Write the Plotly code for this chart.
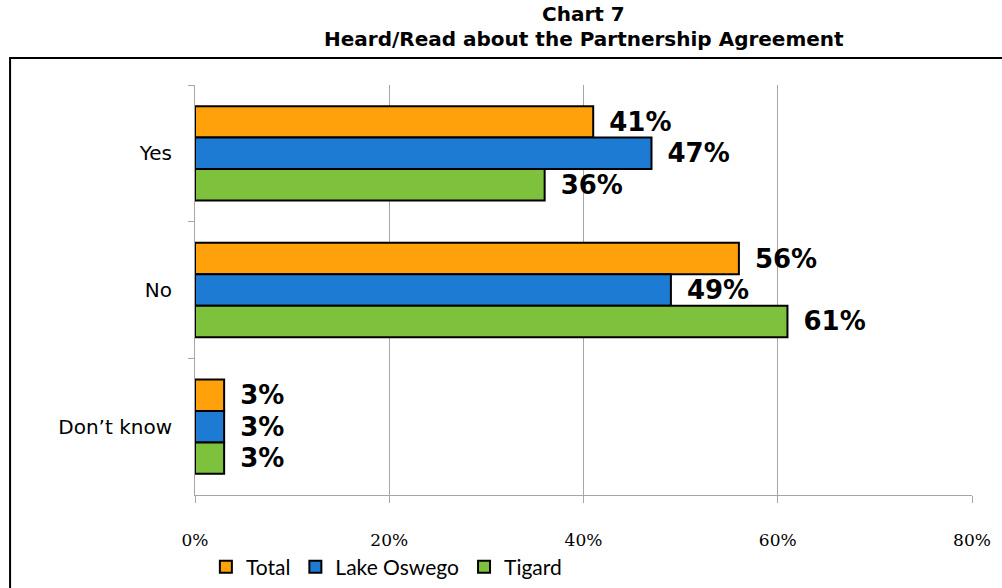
import plotly.graph_objects as go

# ── Data ──────────────────────────────────────────────────────────────────────
categories = ["Yes", "No", "Don\u2019t know"]
total = [41, 56, 3]
lake_oswego = [47, 49, 3]
tigard = [36, 61, 3]

series_names = ["Total", "Lake Oswego", "Tigard"]
series_colors = ["#FFA10A", "#1E7BD4", "#7DC13C"]
x_ticks = [0, 20, 40, 60, 80]
x_tick_labels = ["0%", "20%", "40%", "60%", "80%"]

title_lines = ["Chart 7", "Heard/Read about the Partnership Agreement"]

# ── Figure ────────────────────────────────────────────────────────────────────
fig = go.Figure()
for name, vals, col in zip(series_names, [total, lake_oswego, tigard], series_colors):
    fig.add_trace(
        go.Bar(
            y=categories, x=vals, name=name, orientation="h",
            marker=dict(color=col, line=dict(color="black", width=2)),
            text=[f"\u2002{v}%" for v in vals],   # small gap after bar end
            textposition="outside",
            textfont=dict(family="DejaVu Sans", size=26, color="black", weight="bold"),
            cliponaxis=False,
        )
    )

title_font = dict(family="DejaVu Sans", size=20, color="black", weight="bold")

fig.update_layout(
    width=1002, height=588,
    margin=dict(l=195, r=30, t=85, b=93, autoexpand=False),
    paper_bgcolor="white", plot_bgcolor="white",
    barmode="group", bargap=0.31, bargroupgap=0,
    xaxis=dict(
        range=[0, 80], tickvals=x_ticks, ticktext=x_tick_labels,
        showgrid=True, gridcolor="#A6A6A6", gridwidth=1,
        showline=True, linecolor="#A6A6A6", linewidth=1,
        ticks="outside", ticklen=7, tickcolor="#A6A6A6",
        ticklabelstandoff=23, zeroline=False, automargin=False,
        tickfont=dict(family="DejaVu Serif", size=17, color="black"),
    ),
    yaxis=dict(
        autorange="reversed", showline=True, linecolor="#A6A6A6", linewidth=1,
        ticks="outside", tickson="boundaries", ticklen=6, tickcolor="#A6A6A6",
        showgrid=False, ticklabelstandoff=18, automargin=False,
        tickfont=dict(family="DejaVu Sans", size=20, color="black"),
    ),
    legend=dict(
        orientation="h", x=0.014, y=-0.176, xanchor="left", yanchor="middle",
        font=dict(family="Lato", size=21, color="black"),
        itemwidth=30, traceorder="normal",
    ),
    annotations=[
        dict(text=title_lines[0], xref="paper", yref="paper", x=0.5, y=1.172,
             xanchor="center", yanchor="middle", showarrow=False, font=title_font),
        dict(text=title_lines[1], xref="paper", yref="paper", x=0.5, y=1.112,
             xanchor="center", yanchor="middle", showarrow=False, font=title_font),
    ],
    shapes=[
        dict(type="rect", xref="paper", yref="paper",
             x0=-0.238, x1=1.2, y0=-0.4, y1=1.066,
             line=dict(color="black", width=2), fillcolor="rgba(0,0,0,0)",
             layer="below"),
    ],
)

fig.write_html(
    "out.html",
    config={"displayModeBar": False},
    post_script="document.body.style.margin='0';",
)
